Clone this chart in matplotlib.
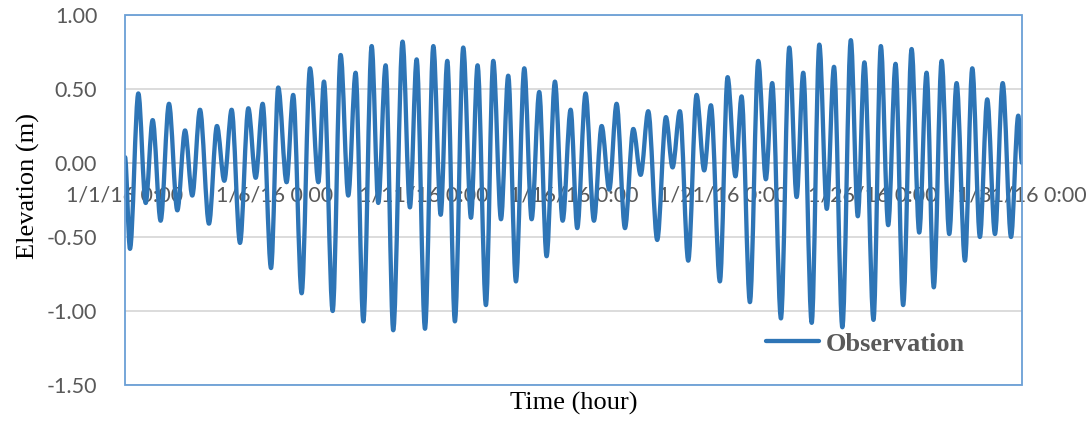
import numpy as np
import pandas as pd
import matplotlib
matplotlib.use("Agg")
import matplotlib.pyplot as plt
import matplotlib.dates as mdates
from matplotlib.patches import Rectangle, PathPatch
from matplotlib.path import Path
from matplotlib.lines import Line2D

# tide extremes: hours after 1/1/16 0:00 and elevation (m)
hours = [0, 4.0, 10.7, 16.6, 22.2, 28.6, 35.3, 42.0, 48.2, 54.0, 60.2, 67.4, 73.8, 79.7,
         85.6, 92.3, 99.0, 104.9, 110.5, 117.2, 123.0, 129.7, 135.0, 141.8, 148.5, 155.2,
         159.7, 166.7, 173.1, 179.2, 185.1, 191.3, 198.0, 203.3, 209.2, 215.3, 222.8, 228.7,
         234.1, 240.8, 247.5, 253.4, 258.7, 264.8, 271.5, 277.7, 283.0, 289.7, 295.6, 301.8,
         307.6, 313.8, 320.5, 326.4, 332.5, 338.4, 345.1, 351.3, 357.7, 363.0, 369.7, 376.4,
         382.6, 388.7, 394.6, 401.3, 408.0, 413.9, 420.0, 427.2, 434.2, 439.5, 445.4, 452.1,
         458.8, 464.9, 470.3, 477.5, 483.7, 490.0, 494.9, 501.6, 508.3, 514.4, 519.5, 526.5,
         533.2, 539.1, 544.4, 551.2, 557.3, 563.3, 569.1, 575.8, 582.6, 588.2, 593.5, 600.8,
         606.7, 612.6, 618.5, 624.6, 631.4, 637.5, 643.4, 649.2, 655.5, 661.6, 667.5, 674.2,
         680.1, 686.2, 692.1, 698.3, 704.5, 711.2, 717.0, 720.0]
elevation = [0.04, -0.58, 0.47, -0.27, 0.29, -0.39, 0.40, -0.32, 0.22, -0.22, 0.36, -0.41, 0.25, -0.12,
             0.36, -0.54, 0.37, -0.10, 0.40, -0.71, 0.51, -0.13, 0.46, -0.88, 0.64, -0.13,
             0.55, -1.00, 0.73, -0.22, 0.61, -1.07, 0.79, -0.27, 0.66, -1.13, 0.82, -0.30,
             0.70, -1.12, 0.79, -0.35, 0.69, -1.07, 0.78, -0.37, 0.66, -0.96, 0.69, -0.38,
             0.59, -0.80, 0.64, -0.38, 0.48, -0.63, 0.55, -0.39, 0.36, -0.44, 0.47, -0.39,
             0.25, -0.18, 0.40, -0.44, 0.23, -0.08, 0.35, -0.52, 0.31, -0.03, 0.35, -0.66,
             0.46, -0.05, 0.39, -0.80, 0.58, -0.09, 0.45, -0.94, 0.69, -0.11, 0.54, -1.05,
             0.78, -0.23, 0.61, -1.08, 0.80, -0.31, 0.65, -1.11, 0.83, -0.36, 0.68, -1.06,
             0.79, -0.42, 0.67, -0.96, 0.77, -0.47, 0.61, -0.84, 0.69, -0.48, 0.54, -0.66,
             0.64, -0.50, 0.43, -0.48, 0.54, -0.50, 0.32, 0.0]
start = pd.Timestamp("2016-01-01")
end = pd.Timestamp("2016-01-31")
y_ticks = [-1.5, -1.0, -0.5, 0.0, 0.5, 1.0]

times = start + pd.to_timedelta(hours, unit="h")
xs = mdates.date2num(times.to_pydatetime())

fig = plt.figure(figsize=(10.89, 4.21), dpi=100)
ax = fig.add_axes([125 / 1089, 1 - 385 / 421, 897 / 1089, 370 / 421])

# smoothed line (like Excel's "smoothed line"): cubic segments, flat at each extreme
verts = [(xs[0], elevation[0])]
codes = [Path.MOVETO]
for i in range(len(xs) - 1):
    dx = (xs[i + 1] - xs[i]) / 3
    verts += [(xs[i] + dx, elevation[i]), (xs[i + 1] - dx, elevation[i + 1]),
              (xs[i + 1], elevation[i + 1])]
    codes += [Path.CURVE4] * 3
blue = "#2E75B6"
ax.add_patch(PathPatch(Path(verts, codes), transform=ax.transData, fill=False,
                       edgecolor=blue, lw=3.1, joinstyle="round", capstyle="round", zorder=2))

ax.set_xlim(start, end)
ax.set_ylim(-1.5, 1.0)
ax.set_yticks(y_ticks)
ax.yaxis.set_major_formatter(plt.FuncFormatter(lambda v, p: f"{v:.2f}"))
ax.xaxis.set_major_locator(mdates.DayLocator(bymonthday=[1, 6, 11, 16, 21, 26, 31]))
ax.xaxis.set_major_formatter(mdates.DateFormatter("%-m/%-d/%y %-H:%M"))

# gridlines under the line, tick labels above it (as in the Excel original)
for v in y_ticks:
    if v != 0:
        ax.axhline(v, color="#D9D9D9", lw=1.3, zorder=1)

for s in ["top", "right", "left"]:
    ax.spines[s].set_visible(False)
ax.spines["bottom"].set_position(("data", 0))
ax.spines["bottom"].set_color("#C8C8C8")
ax.spines["bottom"].set_linewidth(1.3)
ax.spines["bottom"].set_zorder(1)
ax.add_patch(Rectangle((0, 0), 1, 1, transform=ax.transAxes, fill=False,
                       edgecolor="#6A9FD6", lw=1.3, clip_on=False, zorder=4))

ax.tick_params(axis="both", length=0, labelsize=15.5, labelcolor="#595959")
ax.tick_params(axis="x", pad=16)
ax.tick_params(axis="y", pad=20)
for lab in ax.get_xticklabels() + ax.get_yticklabels():
    lab.set_fontfamily("Lato")

ax.set_ylabel("Elevation (m)", fontfamily="Liberation Serif", fontsize=19)
ax.yaxis.set_label_coords(-0.095, 0.5365)
ax.set_xlabel("Time (hour)", fontfamily="Liberation Serif", fontsize=19)
ax.xaxis.set_label_coords(0.5, -0.02)

ax.legend(handles=[Line2D([], [], color=blue, lw=3.1, solid_capstyle="round")],
          labels=["Observation"], loc="center left", bbox_to_anchor=(0.7146, 0.111),
          frameon=False, borderpad=0, borderaxespad=0, handlelength=2.0, handletextpad=0.25,
          prop={"family": "Liberation Serif", "weight": "bold", "size": 19},
          labelcolor="#595959")

fig.savefig("out.png", dpi=100)
